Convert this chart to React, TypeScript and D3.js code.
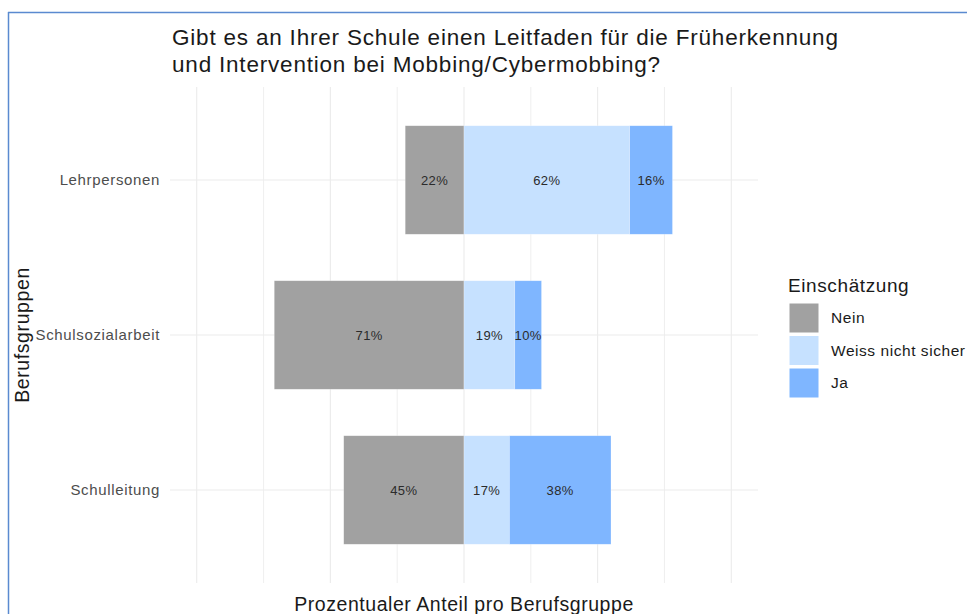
import React from 'react';
import * as d3 from 'd3';

// Berufsgruppen and answer shares (in %)
const groups = ['Lehrpersonen', 'Schulsozialarbeit', 'Schulleitung'];
const answers = ['Nein', 'Weiss nicht sicher', 'Ja'];
const nein = [22, 71, 45];
const weiss = [62, 19, 17];
const ja = [16, 10, 38];
const colors = ['#a1a1a1', '#c6e1ff', '#7fb6ff'];
const majorTicks = [-100, -50, 0, 50, 100];
const minorTicks = [-75, -25, 25, 75];

const W = 967, H = 614;
const FONT = '"Liberation Sans", Arial, sans-serif';

export default function App() {
  const x = d3.scaleLinear().domain([-110, 110]).range([170, 758]);
  const y = d3.scaleBand<string>()
    .domain(groups)
    .range([87, 583])
    .paddingInner(0.3)
    .paddingOuter(0.25);

  // diverging stacks: Nein to the left of zero, rest to the right
  const segs = groups.flatMap((g, i) => {
    const vals = [nein[i], weiss[i], ja[i]];
    return [
      { g, k: 0, v: vals[0], x0: -vals[0], x1: 0 },
      { g, k: 1, v: vals[1], x0: 0, x1: vals[1] },
      { g, k: 2, v: vals[2], x0: vals[1], x1: vals[1] + vals[2] },
    ];
  });

  const [py0, py1] = y.range();

  return (
    <svg width={W} height={H} style={{ position: 'absolute', left: 0, top: 0 }} fontFamily={FONT}>
      <rect x={0} y={0} width={W} height={H} fill="#fff" />
      {/* frame */}
      <line x1={8.5} y1={12} x2={8.5} y2={H} stroke="#5a8ad0" strokeWidth={1.5} />
      <line x1={8} y1={12.5} x2={W} y2={12.5} stroke="#5a8ad0" strokeWidth={1.5} />

      <text x={172} y={45} fontSize={22.5} letterSpacing={0.8} fill="#1a1a1a">
        Gibt es an Ihrer Schule einen Leitfaden für die Früherkennung
      </text>
      <text x={172} y={72} fontSize={22.5} letterSpacing={0.8} fill="#1a1a1a">
        und Intervention bei Mobbing/Cybermobbing?
      </text>

      {/* grid */}
      {minorTicks.map(t => (
        <line key={'mi' + t} x1={x(t)} x2={x(t)} y1={py0} y2={py1} stroke="#ebebeb" strokeWidth={0.8} />
      ))}
      {majorTicks.map(t => (
        <line key={'ma' + t} x1={x(t)} x2={x(t)} y1={py0} y2={py1} stroke="#ebebeb" strokeWidth={1.1} />
      ))}
      {groups.map(g => (
        <line key={'h' + g} x1={x.range()[0]} x2={x.range()[1]}
          y1={y(g)! + y.bandwidth() / 2} y2={y(g)! + y.bandwidth() / 2}
          stroke="#ebebeb" strokeWidth={1.1} />
      ))}

      {/* bars */}
      {segs.map((s, i) => (
        <rect key={'b' + i} x={x(s.x0)} y={y(s.g)} width={x(s.x1) - x(s.x0)} height={y.bandwidth()}
          fill={colors[s.k]} stroke="#ffffff" strokeOpacity={0.4} strokeWidth={0.6} />
      ))}
      {segs.map((s, i) => (
        <text key={'l' + i} x={(x(s.x0) + x(s.x1)) / 2} y={y(s.g)! + y.bandwidth() / 2}
          dy="0.35em" textAnchor="middle" fontSize={13} letterSpacing={0.4} fill="#2b2b2b">
          {s.v}%
        </text>
      ))}

      {/* y axis labels */}
      {groups.map(g => (
        <text key={'y' + g} x={160} y={y(g)! + y.bandwidth() / 2} dy="0.35em"
          textAnchor="end" fontSize={15} letterSpacing={0.65} fill="#4d4d4d">{g}</text>
      ))}

      <text transform={`translate(29,${(py0 + py1) / 2}) rotate(-90)`} textAnchor="middle"
        fontSize={19.5} letterSpacing={0.6} fill="#1a1a1a">Berufsgruppen</text>
      <text x={(x.range()[0] + x.range()[1]) / 2} y={611} textAnchor="middle"
        fontSize={19.5} letterSpacing={0.55} fill="#1a1a1a">Prozentualer Anteil pro Berufsgruppe</text>

      {/* legend */}
      <text x={788} y={292} fontSize={19} letterSpacing={0.6} fill="#1a1a1a">Einschätzung</text>
      {answers.map((a, i) => (
        <g key={'lg' + a} transform={`translate(789,${303 + i * 32.5})`}>
          <rect width={30} height={30} fill={colors[i]} stroke="#fff" strokeWidth={1} />
          <text x={42} y={15} dy="0.35em" fontSize={15.5} letterSpacing={0.55} fill="#1a1a1a">{a}</text>
        </g>
      ))}
    </svg>
  );
}
